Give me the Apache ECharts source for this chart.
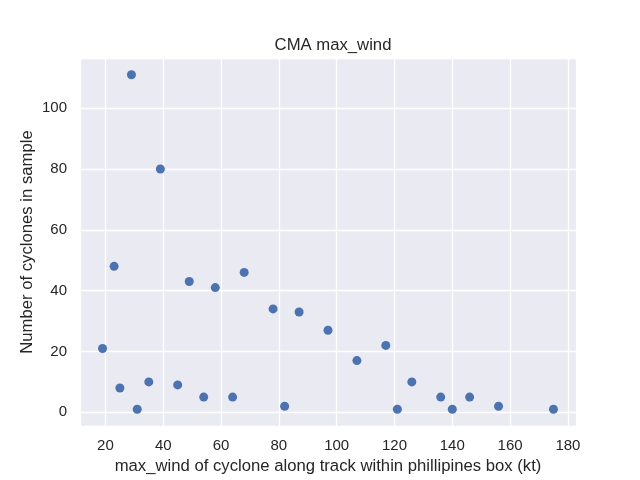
<!DOCTYPE html>
<html>
<head>
<meta charset="utf-8">
<script src="https://cdn.jsdelivr.net/npm/echarts@6/dist/echarts.min.js"></script>
<style>
  html, body { margin: 0; padding: 0; background: #fff; }
  #main { width: 640px; height: 480px; }
</style>
</head>
<body>
<div id="main"></div>
<script>
// max wind (kt) per bin, and how many cyclones fall in it
var windKt = [19, 23, 25, 29, 31, 35, 39, 45, 49, 54, 58, 64, 68,
              78, 82, 87, 97, 107, 117, 121, 126, 136, 140, 146, 156, 175];
var cycloneCount = [21, 48, 8, 111, 1, 10, 80, 9, 43, 5, 41, 5, 46,
                    34, 2, 33, 27, 17, 22, 1, 10, 5, 1, 5, 2, 1];

var chartTitle = 'CMA max_wind';
var xName = 'max_wind of cyclone along track within phillipines box (kt)';
var yName = 'Number of cyclones in sample';

var points = [];
for (var i = 0; i < windKt.length; i++) {
    points.push([windKt[i], cycloneCount[i]]);
}

var textColor = '#262626';
var font = 'Liberation Sans, Arial, sans-serif';

var dom = document.getElementById('main');
var myChart = echarts.init(dom, null, {renderer: 'canvas'});
var option = {
    backgroundColor: '#ffffff',
    animation: false,
    title: {
        text: chartTitle,
        left: 328,
        textAlign: 'center',
        top: 32,
        textStyle: {color: textColor, fontSize: 16.7, fontWeight: 'normal', fontFamily: font}
    },
    grid: {
        left: 80, right: 64, top: 58, bottom: 53,
        show: true,
        backgroundColor: '#EAEAF2',
        borderWidth: 0
    },
    xAxis: {
        type: 'value',
        min: 11.2,
        max: 182.8,
        splitNumber: 8,
        name: xName,
        nameLocation: 'middle',
        nameGap: 32,
        nameMoveOverlap: false,
        nameTextStyle: {color: textColor, fontSize: 16.7, fontFamily: font},
        axisLine: {show: false},
        axisTick: {show: false},
        axisLabel: {
            color: textColor, fontSize: 15, fontFamily: font, margin: 12,
            showMinLabel: false, showMaxLabel: false
        },
        splitLine: {show: true, lineStyle: {color: '#ffffff', width: 1.3}}
    },
    yAxis: {
        type: 'value',
        min: -4.5,
        max: 116.5,
        splitNumber: 6,
        name: yName,
        nameLocation: 'middle',
        nameRotate: 90,
        nameGap: 44,
        nameMoveOverlap: false,
        nameTextStyle: {color: textColor, fontSize: 16.7, fontFamily: font},
        axisLine: {show: false},
        axisTick: {show: false},
        axisLabel: {
            color: textColor, fontSize: 15, fontFamily: font, margin: 13,
            showMinLabel: false, showMaxLabel: false
        },
        splitLine: {show: true, lineStyle: {color: '#ffffff', width: 1.3}}
    },
    series: [
        {
            type: 'scatter',
            data: points,
            symbol: 'circle',
            symbolSize: 9,
            itemStyle: {color: '#4C72B0', opacity: 1}
        }
    ]
};
if (option && typeof option === "object") {
    myChart.setOption(option, true);
}
</script>
</body>
</html>
